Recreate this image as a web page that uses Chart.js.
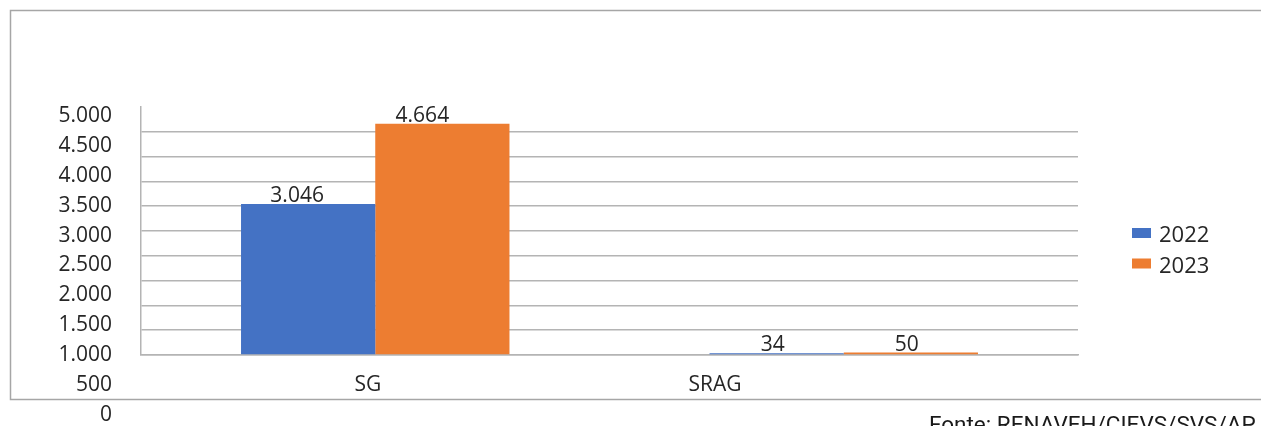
<!DOCTYPE html>
<html>
<head>
<meta charset="utf-8">
<script src="https://cdn.jsdelivr.net/npm/chart.js@4"></script>
<style>
  html, body { margin: 0; padding: 0; background: #fff; }
  #wrap { position: relative; width: 1261px; height: 426px; }
</style>
</head>
<body>
<div id="wrap"><canvas id="barChart" width="1261" height="426"></canvas></div>
<script>
// Data
const categories = ['SG', 'SRAG'];
const seriesNames = ['2022', '2023'];
const values2022 = [3046, 34];
const values2023 = [4664, 50];
const seriesColors = ['#4472C4', '#ED7D31'];
const yTickLabels = ['5.000', '4.500', '4.000', '3.500', '3.000', '2.500', '2.000', '1.500', '1.000', '500', '0'];
const sourceText = 'Fonte: RENAVEH/CIEVS/SVS/AP';

const FONT = '"Open Sans", "Noto Sans", sans-serif';
const TEXT = '#262626';
const fmt = v => v.toLocaleString('pt-BR');

/* ============================================================
   Extra drawing: frame, shifted labels, legend, value labels
   ============================================================ */
const overlay = {
  id: 'overlay',
  afterDraw(chart) {
    const ctx = chart.ctx;
    ctx.save();

    // outer frame
    ctx.strokeStyle = '#a6a6a6';
    ctx.lineWidth = 1.5;
    ctx.beginPath();
    ctx.moveTo(1262, 10.5);
    ctx.lineTo(10.5, 10.5);
    ctx.lineTo(10.5, 399.5);
    ctx.lineTo(1262, 399.5);
    ctx.stroke();

    // y tick labels (as placed in the source picture)
    ctx.fillStyle = TEXT;
    ctx.font = '21px ' + FONT;
    ctx.textAlign = 'right';
    ctx.textBaseline = 'middle';
    yTickLabels.forEach((t, i) => ctx.fillText(t, 112, 116 + i * 29.9));

    // category labels
    ctx.textAlign = 'center';
    const catX = [368, 715];
    categories.forEach((c, i) => ctx.fillText(c, catX[i], 385));

    // value labels above bars (slightly shifted as in the source)
    const shift = [[-11, -4], [-20, -4]];
    ctx.textBaseline = 'alphabetic';
    chart.data.datasets.forEach((ds, di) => {
      chart.getDatasetMeta(di).data.forEach((bar, i) => {
        ctx.fillText(fmt(ds.data[i]), bar.x + shift[di][i], bar.y - 2);
      });
    });

    // legend
    ctx.textAlign = 'left';
    ctx.textBaseline = 'middle';
    ctx.font = '22px ' + FONT;
    seriesNames.forEach((name, i) => {
      const y = 236 + i * 30.5;
      ctx.fillStyle = seriesColors[i];
      ctx.fillRect(1132, y - 8, 19, 10);
      ctx.fillStyle = TEXT;
      ctx.fillText(name, 1159, y);
    });

    // source (cut by the bottom edge)
    ctx.font = '22.5px Roboto, "Liberation Sans", sans-serif';
    ctx.textBaseline = 'alphabetic';
    ctx.fillStyle = '#1a1a1a';
    ctx.fillText(sourceText, 929, 432);

    ctx.restore();
  }
};

new Chart(document.getElementById('barChart'), {
  type: 'bar',
  data: {
    labels: categories,
    datasets: [
      { label: seriesNames[0], data: values2022, backgroundColor: seriesColors[0] },
      { label: seriesNames[1], data: values2023, backgroundColor: seriesColors[1] }
    ]
  },
  options: {
    responsive: false,
    animation: false,
    devicePixelRatio: 1,
    datasets: { bar: { categoryPercentage: 0.573, barPercentage: 1.0 } },
    layout: { padding: { left: 141, right: 183, top: 107, bottom: 71 } },
    plugins: { legend: { display: false }, tooltip: { enabled: false } },
    scales: {
      x: {
        ticks: { display: false },
        grid: { display: false, drawTicks: false },
        border: { display: true, color: '#b4b4b4', width: 1.5 },
        afterFit: s => { s.height = 0; }
      },
      y: {
        min: 0,
        max: 5000,
        ticks: { display: false, stepSize: 500 },
        grid: {
          drawTicks: false,
          color: ctx => (ctx.tick && ctx.tick.value === 5000) ? 'rgba(0,0,0,0)' : '#b4b4b4',
          lineWidth: 1.5
        },
        border: { display: true, color: '#b4b4b4', width: 1.5 },
        afterFit: s => { s.width = 0; }
      }
    }
  },
  plugins: [overlay]
});
</script>
</body>
</html>
